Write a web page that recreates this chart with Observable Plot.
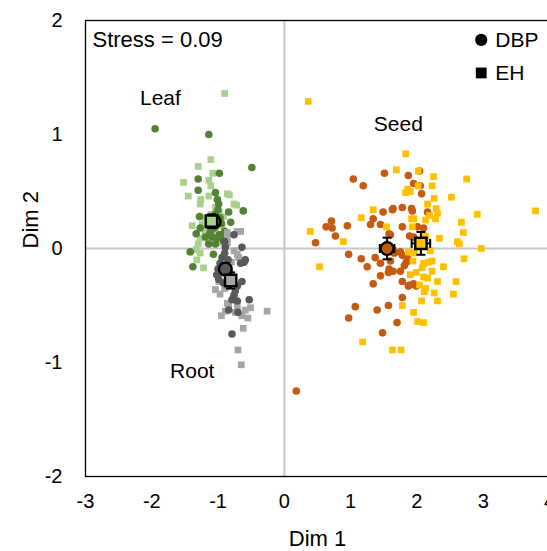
<!DOCTYPE html>
<html>
<head>
<meta charset="utf-8">
<script src="https://cdn.jsdelivr.net/npm/d3@7"></script>
<script src="https://cdn.jsdelivr.net/npm/@observablehq/plot@0.6"></script>
<style>
  html, body { margin: 0; padding: 0; background: #fff; overflow: hidden; }
  #chart svg { overflow: hidden; }
</style>
</head>
<body>
<div id="chart"></div>
<script>
// ---- Data (NMDS coordinates) ----
const xTicks = [-3, -2, -1, 0, 1, 2, 3, 4];
const yTicks = [-2, -1, 0, 1, 2];
const stressText = "Stress = 0.09";
const methods = ["DBP", "EH"];
const tissues = ["Leaf", "Root", "Seed"];

const leafEH = [[-0.90,1.36],[-1.11,0.78],[-1.30,0.72],[-1.08,0.66],[-1.52,0.58],[-1.14,0.60],[-1.11,0.55],
  [-1.45,0.46],[-1.14,0.46],[-1.26,0.43],[-0.86,0.48],[-0.83,0.47],[-1.27,0.39],[-0.76,0.39],[-0.72,0.38],
  [-1.04,0.36],[-0.98,0.31],[-1.39,0.20],[-1.20,0.27],[-1.24,0.21],[-1.04,0.25],[-0.94,0.20],[-1.27,0.09],
  [-1.30,0.04],[-1.14,0.11],[-1.04,0.14],[-1.33,-0.01],[-1.27,-0.04],[-1.32,-0.10],[-1.22,-0.17],
  [-1.05,0.15],[-1.00,0.10],[-0.95,0.05],[-1.10,0.30],[-1.20,0.15],[-1.00,0.20],[-1.15,0.05],[-0.92,0.28]];
const leafDBP = [[-1.95,1.05],[-0.49,0.71],[-1.14,1.00],[-0.98,0.66],[-1.30,0.61],[-1.30,0.51],[-1.04,0.49],
  [-1.01,0.43],[-0.99,0.39],[-0.62,0.33],[-0.84,0.32],[-1.28,0.28],[-0.81,0.23],[-1.27,0.18],[-0.90,0.15],
  [-1.33,0.13],[-1.09,0.10],[-1.02,0.09],[-0.92,0.07],[-1.00,0.34],[-1.04,0.30],[-1.09,0.24],[-1.14,0.20],
  [-1.19,0.10],[-1.42,-0.03],[-1.38,-0.16],[-1.07,-0.05],[-1.14,0.04],[-1.04,0.04],[-0.97,0.27],[-0.95,0.22],
  [-1.06,0.18],[-0.98,0.12],[-1.12,0.14],[-0.88,0.10]];
const rootEH = [[-0.86,0.05],[-0.71,-0.05],[-0.69,-0.08],[-0.76,-0.02],[-0.94,-0.21],[-0.99,-0.29],[-1.04,-0.36],
  [-0.97,-0.40],[-0.86,-0.48],[-0.71,-0.51],[-0.59,-0.54],[-0.51,-0.52],[-0.95,-0.59],[-0.74,-0.56],[-0.64,-0.59],
  [-0.55,-0.61],[-0.26,-0.55],[-0.62,-0.70],[-0.70,-0.89],[-0.65,-1.02],[-0.89,-0.55],[-0.84,-0.49],[-0.86,0.14],
  [-0.71,0.15],[-0.66,0.15],[-0.86,0.09],[-0.80,-0.12],[-0.90,-0.35],[-0.78,-0.30]];
const rootDBP = [[-0.64,0.01],[-0.59,-0.10],[-0.61,-0.12],[-0.66,-0.13],[-0.89,0.01],[-0.90,-0.04],[-0.94,-0.08],
  [-0.97,-0.13],[-1.00,-0.18],[-1.02,-0.23],[-0.99,-0.27],[-0.64,-0.29],[-0.71,-0.33],[-0.74,-0.37],[-0.76,-0.41],
  [-0.79,-0.45],[-0.71,-0.46],[-0.53,-0.45],[-0.84,-0.54],[-0.70,-0.56],[-0.79,-0.75],[-0.92,-0.30],[-0.84,-0.33],
  [-0.76,0.12],[-0.90,0.06],[-0.85,-0.10],[-0.82,-0.22]];
const seedEH = [[0.36,1.29],[1.83,0.83],[1.69,0.69],[2.02,0.68],[2.25,0.63],[2.23,0.55],[2.75,0.61],[2.02,0.55],
  [1.86,0.52],[1.83,0.49],[1.90,0.50],[2.26,0.44],[2.52,0.45],[2.16,0.39],[2.29,0.35],[2.31,0.31],[3.79,0.33],
  [2.91,0.30],[1.92,0.26],[1.95,0.26],[2.13,0.25],[2.19,0.29],[2.28,0.26],[2.67,0.23],[1.93,0.19],[2.70,0.14],
  [2.34,0.09],[2.13,0.11],[2.61,0.06],[2.64,0.04],[2.97,0.00],[2.20,-0.02],[1.96,-0.04],[1.87,-0.03],[2.71,-0.09],
  [1.94,-0.11],[2.10,-0.13],[2.17,-0.12],[2.23,-0.11],[2.08,-0.17],[2.40,-0.16],[2.23,-0.20],[1.90,-0.23],
  [1.99,-0.21],[2.10,-0.25],[2.16,-0.26],[2.31,-0.29],[2.59,-0.29],[2.04,-0.32],[2.13,-0.35],[2.11,-0.38],
  [2.26,-0.39],[2.55,-0.40],[2.31,-0.46],[2.07,-0.46],[1.78,-0.50],[1.95,-0.56],[2.01,-0.64],[2.10,-0.65],
  [1.18,-0.82],[1.63,-0.89],[1.76,-0.89],[1.34,0.34],[1.16,0.27],[1.54,0.19],[0.39,0.15],[0.89,0.06],[0.53,-0.16]];
const seedDBP = [[2.04,0.68],[1.87,0.64],[1.95,0.57],[2.07,0.48],[1.64,0.35],[1.78,0.36],[1.92,0.35],[1.93,0.33],
  [2.16,0.32],[1.78,0.19],[2.01,0.19],[2.10,0.18],[1.89,0.11],[1.95,0.10],[1.60,0.12],[1.64,-0.01],[1.66,-0.04],
  [1.75,-0.03],[1.78,-0.06],[1.84,-0.12],[1.81,-0.15],[1.64,-0.20],[1.75,-0.20],[1.78,-0.29],[1.89,-0.32],
  [1.95,-0.31],[1.78,-0.43],[1.04,0.61],[1.19,0.55],[1.51,0.66],[2.05,0.55],[1.49,0.32],[1.63,0.34],[1.34,0.26],
  [0.71,0.24],[0.63,0.19],[0.72,0.18],[0.95,0.20],[1.30,0.21],[1.45,0.21],[1.58,0.13],[0.77,0.11],[0.47,0.05],
  [0.97,-0.05],[1.16,-0.09],[1.37,-0.08],[1.63,-0.03],[1.25,-0.16],[1.45,-0.13],[1.60,-0.11],[1.58,-0.18],
  [1.57,-0.21],[1.86,-0.09],[1.45,-0.24],[1.34,-0.31],[1.87,-0.33],[1.99,-0.33],[1.07,-0.51],[0.97,-0.61],
  [1.40,-0.54],[1.57,-0.50],[1.70,-0.65],[1.48,-0.74],[0.18,-1.25]];

// group means with error (x error, y error)
const meanTissue = ["Leaf", "Leaf", "Root", "Root", "Seed", "Seed"];
const meanMethod = ["DBP", "EH", "DBP", "EH", "DBP", "EH"];
const meanX = [-1.06, -1.10, -0.89, -0.81, 1.55, 2.06];
const meanY = [0.235, 0.24, -0.18, -0.28, 0.00, 0.045];
const errX  = [0.05, 0.06, 0.04, 0.05, 0.11, 0.14];
const errY  = [0.05, 0.06, 0.05, 0.07, 0.095, 0.10];

// ---- Styling / annotation (kept apart from data) ----
const colors = {
  "Leaf DBP": "#548235", "Leaf EH": "#a9d18e",
  "Root DBP": "#595959", "Root EH": "#a6a6a6",
  "Seed DBP": "#c55a11", "Seed EH": "#ffc000"
};
const groupLabelPos = {Leaf: [-1.87, 1.32], Root: [-1.39, -1.08], Seed: [1.72, 1.09]};
const legendPos = {DBP: [2.97, 1.83], EH: [2.97, 1.54]};

const toRows = (arr, tissue, method) => arr.map(([x, y]) => ({x, y, tissue, method, key: tissue + " " + method}));
const layers = [
  toRows(leafEH, "Leaf", "EH"), toRows(leafDBP, "Leaf", "DBP"),
  toRows(rootEH, "Root", "EH"), toRows(rootDBP, "Root", "DBP"),
  toRows(seedDBP, "Seed", "DBP"), toRows(seedEH, "Seed", "EH")
];
const means = meanX.map((x, i) => ({x, y: meanY[i], xe: errX[i], ye: errY[i],
  tissue: meanTissue[i], method: meanMethod[i], key: meanTissue[i] + " " + meanMethod[i]}));

const capH = {draw(ctx) { ctx.moveTo(-4.5, 0); ctx.lineTo(4.5, 0); }};
const capV = {draw(ctx) { ctx.moveTo(0, -4.5); ctx.lineTo(0, 4.5); }};
const sym = m => m === "DBP" ? "circle" : "square";

const font = "Liberation Sans, Arial, sans-serif";
const marks = [
  Plot.ruleX([0], {stroke: "#c8c8c8", strokeWidth: 2}),
  Plot.ruleY([0], {stroke: "#c8c8c8", strokeWidth: 2}),
  Plot.frame({stroke: "#000", strokeWidth: 1.3}),
  Plot.axisX({ticks: xTicks, tickSize: 0, tickPadding: 17, fontSize: 20, label: null, tickFormat: d => String(d)}),
  Plot.axisY({ticks: yTicks, tickSize: 0, tickPadding: 23, fontSize: 20, label: null, tickFormat: d => String(d)}),
];
for (const rows of layers) {
  const m = rows[0].method;
  marks.push(Plot.dot(rows, {x: "x", y: "y", symbol: sym(m), r: 3.8,
    fill: d => colors[d.key], stroke: "none"}));
}
// error bars
marks.push(
  Plot.link(means, {x1: d => d.x - d.xe, x2: d => d.x + d.xe, y1: "y", y2: "y", stroke: "#000", strokeWidth: 2}),
  Plot.link(means, {x1: "x", x2: "x", y1: d => d.y - d.ye, y2: d => d.y + d.ye, stroke: "#000", strokeWidth: 2}),
  Plot.dot(means, {x: d => d.x - d.xe, y: "y", symbol: capV, stroke: "#000", strokeWidth: 2, r: 5}),
  Plot.dot(means, {x: d => d.x + d.xe, y: "y", symbol: capV, stroke: "#000", strokeWidth: 2, r: 5}),
  Plot.dot(means, {x: "x", y: d => d.y - d.ye, symbol: capH, stroke: "#000", strokeWidth: 2, r: 5}),
  Plot.dot(means, {x: "x", y: d => d.y + d.ye, symbol: capH, stroke: "#000", strokeWidth: 2, r: 5}),
  Plot.dot(means, {x: "x", y: "y", symbol: d => sym(d.method), r: 6.4, sort: null,
    fill: d => colors[d.key], stroke: "#000", strokeWidth: 2.4})
);
// group labels
marks.push(Plot.text(tissues, {x: t => groupLabelPos[t][0], y: t => groupLabelPos[t][1], text: d => d,
  fontSize: 21, fill: "#000", fontFamily: font}));
// legend
marks.push(
  Plot.dot(methods, {x: m => legendPos[m][0], y: m => legendPos[m][1], symbol: sym, r: 6.1, fill: "#000"}),
  Plot.text(methods, {x: m => legendPos[m][0], y: m => legendPos[m][1], text: d => d, dx: 14, textAnchor: "start",
    fontSize: 21, fill: "#000", fontFamily: font})
);
// stress, axis titles
marks.push(
  Plot.text([stressText], {frameAnchor: "top-left", text: d => d, dx: 7, dy: 11, textAnchor: "start",
    fontSize: 22, fill: "#000", fontFamily: font}),
  Plot.text(["Dim 1"], {frameAnchor: "bottom", text: d => d, dy: 69, fontSize: 22, fill: "#000", fontFamily: font}),
  Plot.text(["Dim 2"], {frameAnchor: "left", text: d => d, dx: -55, rotate: -90, fontSize: 22, fill: "#000", fontFamily: font})
);

const chart = Plot.plot({
  width: 547,
  height: 551,
  marginLeft: 85,
  marginRight: -2,
  marginTop: 20,
  marginBottom: 75,
  x: {domain: [-3, 4]},
  y: {domain: [-2, 2]},
  r: {type: "identity"},
  style: {fontFamily: font, color: "#000", background: "#fff", overflow: "hidden"},
  marks
});
document.getElementById("chart").appendChild(chart);
</script>
</body>
</html>
